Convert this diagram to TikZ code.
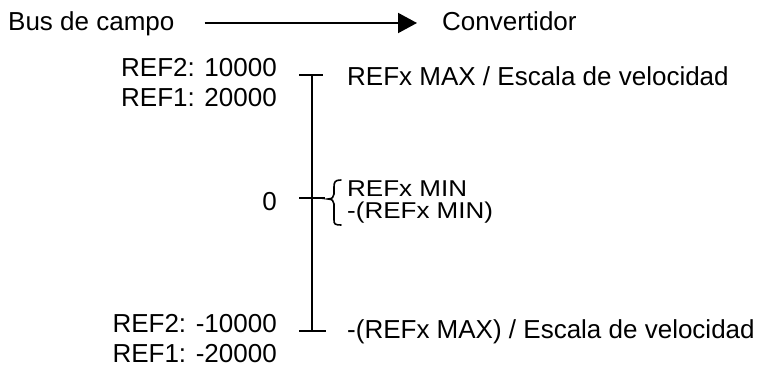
\documentclass[tikz,border=0pt]{standalone}
\usepackage{fontspec}
\setmainfont{Liberation Sans}
\usetikzlibrary{arrows.meta}

% lettering squeezed vertically for the two stacked minimum labels
\newcommand{\squeezed}[1]{\scalebox{1}[0.88]{#1}}

\begin{document}
\begin{tikzpicture}[x=1pt,y=-1pt,
  lbl/.style={inner sep=0pt, font=\fontsize{26}{30}\selectfont,
              text height=20pt, text depth=4pt},
  tightlbl/.style={lbl, text height=16pt, text depth=2pt},
  axisline/.style={line width=2pt},
  flow/.style={line width=2pt, -{Triangle[length=19pt,width=20pt]}},
  bracepath/.style={line width=1.6pt, line cap=round}]

  % canvas
  \useasboundingbox (0,0) rectangle (767,366);

  % top row: data flow from the fieldbus to the drive
  \node[lbl, anchor=base west] (bus)  at (8,31)   {Bus de campo};
  \node[lbl, anchor=base west] (conv) at (442,31) {Convertidor};
  \draw[flow] ([xshift=30]bus.east) -- ([xshift=-25]conv.west);

  % scale axis with its three ticks
  \coordinate (axtop) at (312,75);
  \coordinate (axmid) at (312,198);
  \coordinate (axbot) at (312,331);
  \draw[axisline] (axtop) -- (axbot);
  \draw[axisline] ([xshift=-13]axtop) -- ([xshift=11]axtop);
  \draw[axisline] ([xshift=-13]axmid) -- ([xshift=13]axmid);
  \draw[axisline] ([xshift=-13]axbot) -- ([xshift=14]axbot);

  % fieldbus values (left)
  \node[lbl, anchor=base east] (r2max) at (277,77)  {REF2: 10000};
  \node[lbl, anchor=base east] (r1max) at (277,107) {REF1: 20000};
  \node[lbl, anchor=base east] (zero)  at (277,210) {0};
  \node[lbl, anchor=base east] (r2min) at (277,332) {REF2: -10000};
  \node[lbl, anchor=base east] (r1min) at (277,362) {REF1: -20000};

  % drive values (right)
  \node[lbl, anchor=base west] (dmax) at (347,86)  {REFx MAX / Escala de velocidad};
  \node[tightlbl, anchor=base west] (dmn1) at (347,196) {\squeezed{REFx MIN}};
  \node[tightlbl, anchor=base west] (dmn2) at (347,218) {\squeezed{-(REFx MIN)}};
  \node[lbl, anchor=base west] (dmin) at (347,338) {-(REFx MAX) / Escala de velocidad};

  % curly brace grouping the two minimum values
  \draw[bracepath] (341,180) .. controls (335,180) and (334,182) .. (334,187)
    -- (334,194) .. controls (334,197) and (332,199) .. (328,199)
    .. controls (332,199) and (334,201) .. (334,204)
    -- (334,220) .. controls (334,224) and (335,225) .. (341,225);
\end{tikzpicture}
\end{document}
